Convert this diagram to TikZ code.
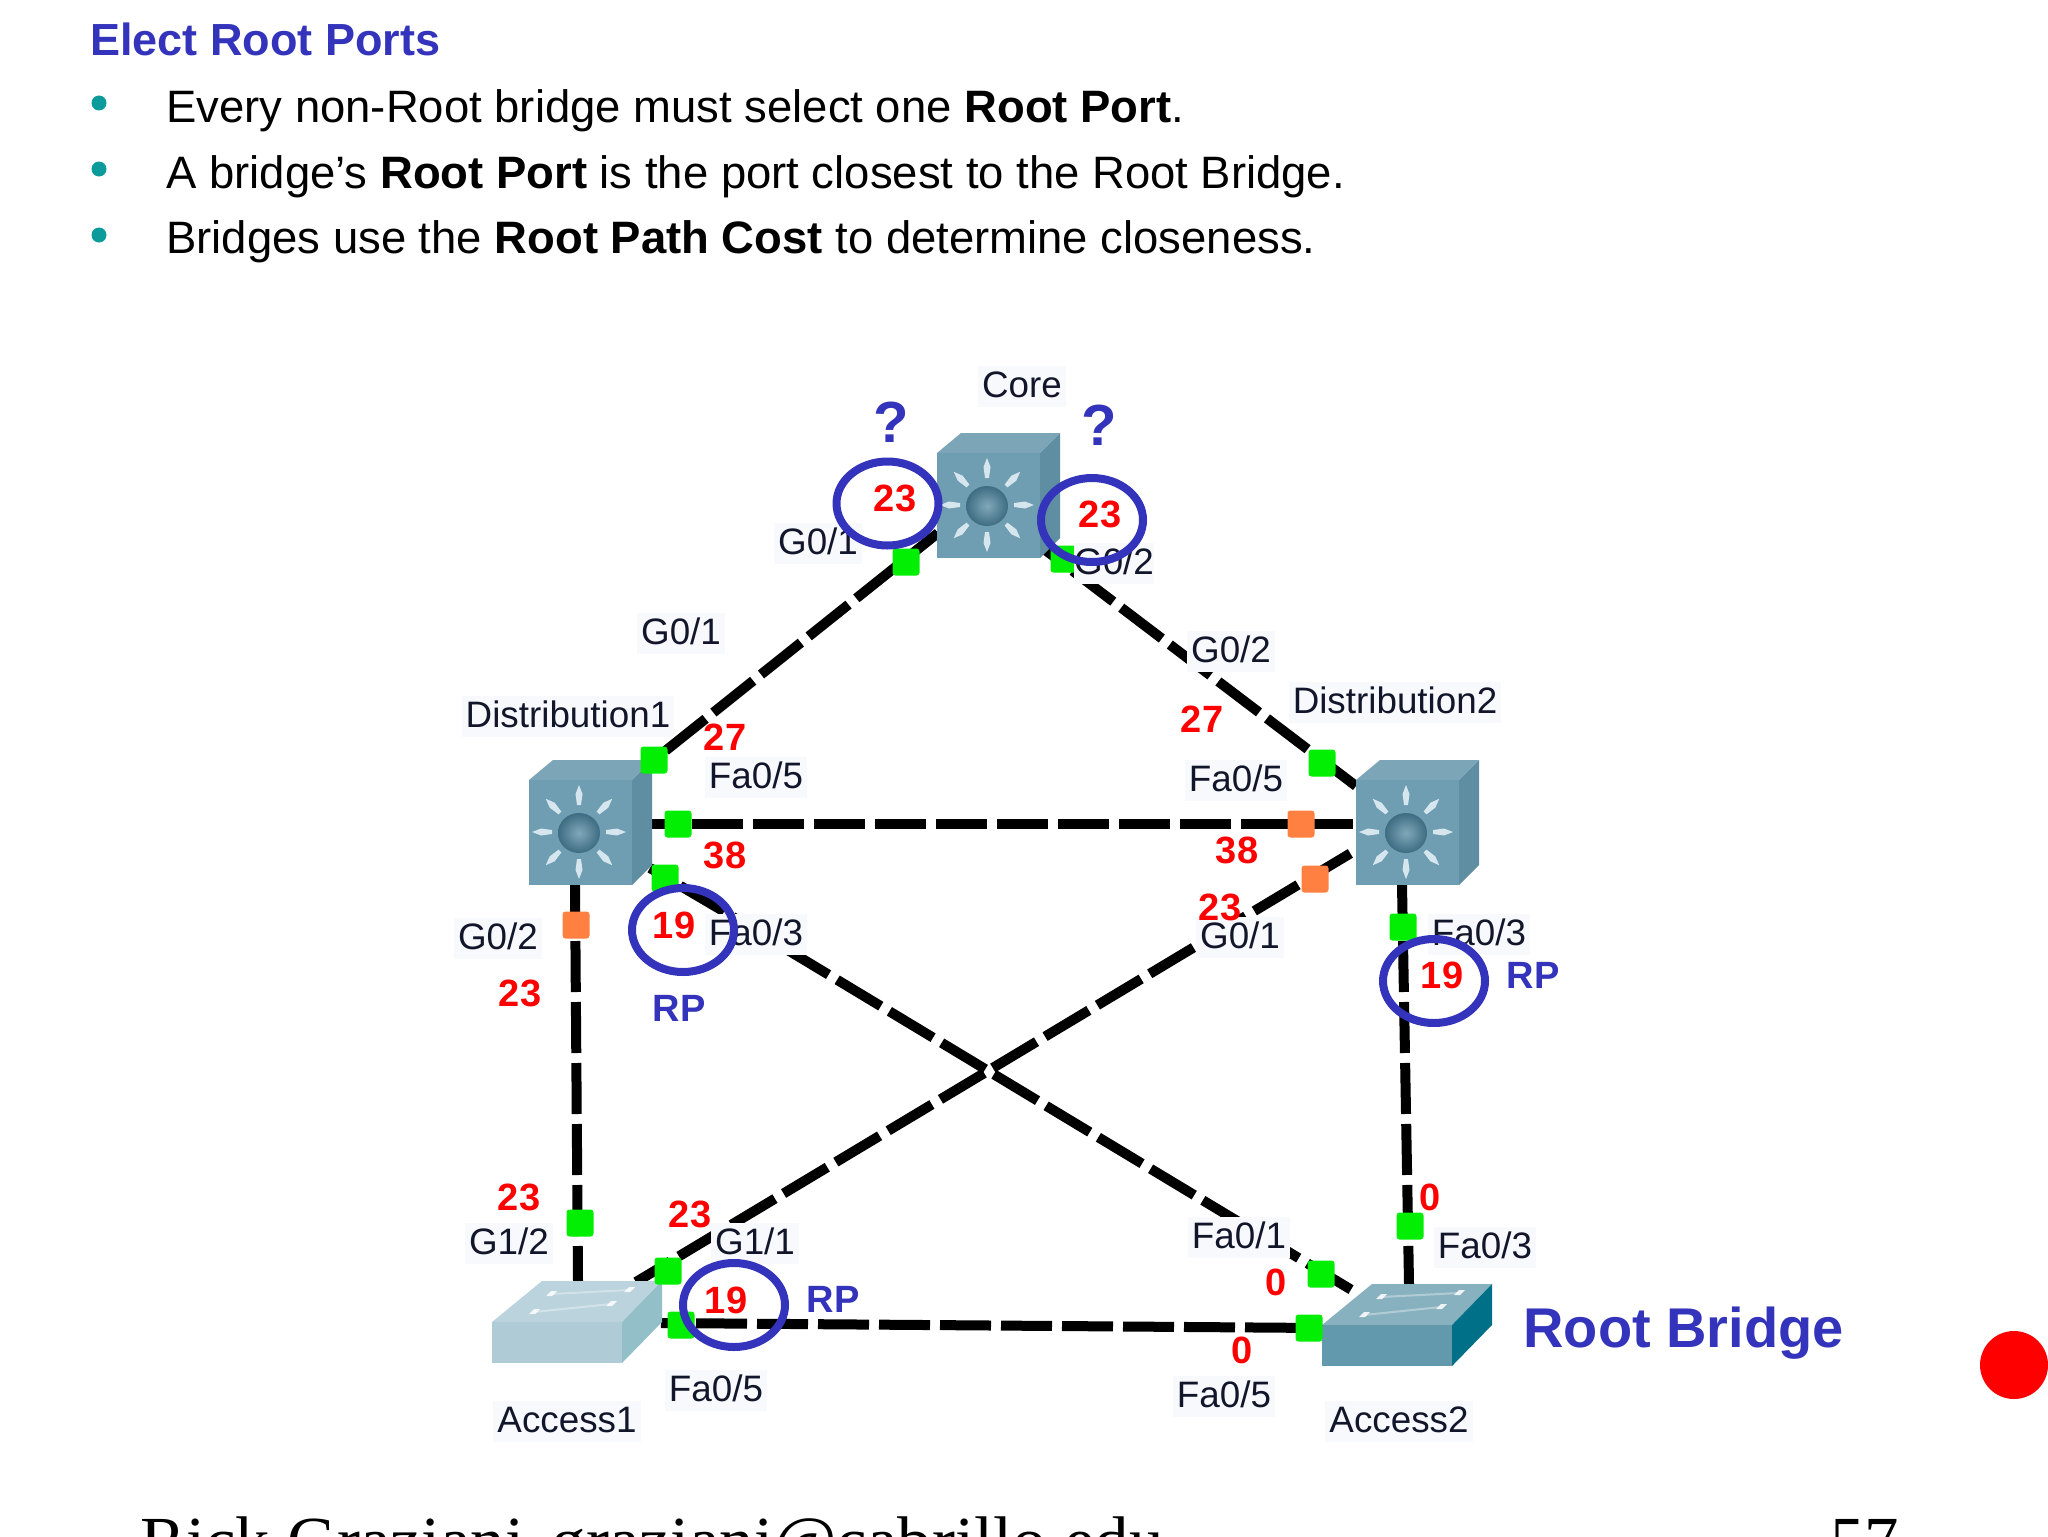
\documentclass[tikz,border=0pt]{standalone}
\usepackage{fontspec}
\setmainfont{Liberation Sans}
\newfontfamily\footfont{Liberation Serif}
\usetikzlibrary{shapes.geometric}

\definecolor{slideblue}{HTML}{3333BB}
\definecolor{bullet}{HTML}{0B9B9B}
\definecolor{portgreen}{HTML}{02EE02}
\definecolor{portorange}{HTML}{FF8040}
\definecolor{labelbg}{HTML}{F8F9FD}
\definecolor{labelink}{HTML}{12162A}

\tikzset{
  every node/.style={inner sep=0pt},
  heading/.style={anchor=base west, text=slideblue, font=\fontsize{22.5}{27}\selectfont\bfseries},
  body/.style={anchor=base west, font=\fontsize{22.72}{27}\selectfont},
  dot/.style={circle, fill=bullet, minimum size=7.5pt},
  foot/.style={anchor=base west, font=\footfont\fontsize{34.4}{42}\selectfont},
  link/.style={line width=5pt, black, dash pattern=on 25.5pt off 5pt},
  port/.style={rectangle, rounded corners=1.5pt, minimum size=13.5pt},
  up/.style={port, fill=portgreen},
  block/.style={port, fill=portorange},
  plabel/.style={fill=labelbg, text=labelink, inner xsep=2pt, inner ysep=2pt,
    text height=14pt, text depth=2.5pt, font=\fontsize{18.4}{22}\selectfont},
  dname/.style={plabel},
  cost/.style={text=red, font=\fontsize{19}{23}\selectfont\bfseries},
  rp/.style={text=slideblue, font=\fontsize{19}{23}\selectfont\bfseries},
  ask/.style={text=slideblue, font=\fontsize{29}{35}\selectfont\bfseries},
  ring/.style={ellipse, draw=slideblue, line width=4pt, minimum width=51pt, minimum height=42pt},
  mlsfront/.style={fill={rgb,255:red,111;green,157;blue,177}},
  mlstop/.style={fill={rgb,255:red,124;green,166;blue,184}},
  mlsside/.style={fill={rgb,255:red,95;green,141;blue,162}},
  spoke/.style={fill={rgb,255:red,214;green,230;blue,238}},
  pics/mls/.style={code={
    \fill[mlstop] (0,0) -- (24,-20) -- (123,-20) -- (103,0) -- cycle;
    \fill[mlsside] (103,0) -- (123,-20) -- (123,85) -- (103,105) -- cycle;
    \fill[mlsfront] (0,0) rectangle (103,105);
    \foreach \a in {0,45,...,315} {
      \begin{scope}[shift={(50,52)},rotate=\a]
        \fill[spoke] (27,-2) -- (38,-3.5) -- (47,0) -- (38,3.5) -- (27,2) -- cycle;
      \end{scope}
    }
    \shade[inner color={rgb,255:red,128;green,168;blue,186}, outer color={rgb,255:red,62;green,108;blue,130}]
      (50,53) ellipse (21 and 20);
  }},
  pics/acc/.style n args={3}{code={
    \fill[#2] (0,0) -- (50,-41) -- (170,-41) -- (130,0) -- cycle;
    \fill[#3] (130,0) -- (170,-41) -- (170,0) -- (130,41) -- cycle;
    \fill[#1] (0,0) rectangle (130,41);
    \draw[white, opacity=.35, line width=1pt] (59,-28) -- (137,-32) (42,-10) -- (119,-18);
    \foreach \p in {(59,-28),(137,-32),(42,-10),(119,-18)}
      \fill[white, opacity=.85, shift={\p}] (-5,2) -- (0,-3) -- (6,-3) -- (1,2) -- cycle;
  }}
}

\begin{document}
\begin{tikzpicture}[x=0.5pt,y=-0.5pt]
\useasboundingbox (0,0) rectangle (2048,1536);

% slide text
\node[heading] (title) at (90,56) {Elect Root Ports};
\node[dot] (b1) at (99,103) {};
\node[dot] (b2) at (99,169) {};
\node[dot] (b3) at (99,235) {};
\node[body] (t1) at (166,122) {Every non-Root bridge must select one \textbf{Root Port}.};
\node[body] (t2) at (166,188) {A bridge’s \textbf{Root Port} is the port closest to the Root Bridge.};
\node[body] (t3) at (166,253) {Bridges use the \textbf{Root Path Cost} to determine closeness.};

% ends of the links
\coordinate (coreL) at (938,533);
\coordinate (coreR) at (1040,546);
\coordinate (d1T) at (654,760);
\coordinate (d1R) at (651,824);
\coordinate (d1X) at (650,868);
\coordinate (d1K) at (718,908);
\coordinate (d1B) at (575,885);
\coordinate (d2T) at (1356,786);
\coordinate (d2L) at (1356,824);
\coordinate (d2X) at (1356,850);
\coordinate (d2B) at (1402,885);
\coordinate (a1T) at (578,1281);
\coordinate (a1X) at (636,1282);
\coordinate (a1R) at (661,1323);
\coordinate (a2L) at (1322,1328);
\coordinate (a2X) at (1355,1292);
\coordinate (a2T) at (1409,1284);

% links
\draw[link, dash phase=23pt] (d1T) -- (coreL);
\draw[link, dash phase=10pt] (coreR) -- (d2T);
\draw[link, dash phase=10pt] (d1R) -- (d2L);
\draw[link, dash phase=2.5pt] (d1B) -- (a1T);
\draw[link, dash phase=2.5pt] (d2B) -- (a2T);
\draw[link, dash phase=13pt] (a1R) -- (a2L);
\draw[link, dash phase=13pt] (d1X) -- (d1K) -- (a2X);
\draw[link, dash phase=27.2pt] (d2X) -- (a1X);

% devices
\pic at (937,453) {mls};
\pic at (529,780) {mls};
\pic at (1356,780) {mls};
\pic at (492,1322) {acc={fill={rgb,255:red,175;green,203;blue,213}}{fill={rgb,255:red,186;green,211;blue,220}}{fill={rgb,255:red,147;green,191;blue,201}}};
\pic at (1322,1325) {acc={fill={rgb,255:red,98;green,153;blue,173}}{fill={rgb,255:red,136;green,177;blue,192}}{fill={rgb,255:red,0;green,112;blue,136}}};

% ports
\node[up] (pCoreL) at (906,562) {};
\node[up] (pCoreR) at (1064,559) {};
\node[up] (pD1T) at (654,760) {};
\node[up] (pD1R) at (678,824) {};
\node[up] (pD1X) at (665,878) {};
\node[block] (pD1B) at (576,925) {};
\node[up] (pD2T) at (1322,763) {};
\node[block] (pD2L) at (1301,824) {};
\node[block] (pD2X) at (1315,879) {};
\node[up] (pD2B) at (1403,927) {};
\node[up] (pA1T) at (580,1223) {};
\node[up] (pA1X) at (668,1271) {};
\node[up] (pA1R) at (681,1325) {};
\node[up] (pA2L) at (1309,1328) {};
\node[up] (pA2X) at (1321,1274) {};
\node[up] (pA2T) at (1410,1226) {};

% device and port labels
\node[dname] (nCore) at (1022,386) {Core};
\node[dname] (nD1) at (568,716) {Distribution1};
\node[dname] (nD2) at (1395,702) {Distribution2};
\node[dname] (nA1) at (567,1421) {Access1};
\node[dname] (nA2) at (1399,1421) {Access2};
\node[plabel] (l1) at (818,543) {G0/1};
\node[plabel, inner xsep=0pt] (l2) at (1114,563) {G0/2};
\node[plabel] (l3) at (681,633) {G0/1};
\node[plabel] (l4) at (1231,651) {G0/2};
\node[plabel] (l5) at (756,777) {Fa0/5};
\node[plabel] (l6) at (1236,780) {Fa0/5};
\node[plabel] (l7) at (498,938) {G0/2};
\node[plabel] (l8) at (756,934) {Fa0/3};
\node[plabel] (l9) at (1240,937) {G0/1};
\node[plabel] (l10) at (1479,934) {Fa0/3};
\node[plabel] (l11) at (509,1243) {G1/2};
\node[plabel] (l12) at (755,1243) {G1/1};
\node[plabel] (l13) at (716,1390) {Fa0/5};
\node[plabel] (l14) at (1239,1237) {Fa0/1};
\node[plabel] (l15) at (1485,1247) {Fa0/3};
\node[plabel] (l16) at (1224,1396) {Fa0/5};

% path costs
\node[cost] (c1) at (895,498) {23};
\node[cost] (c2) at (1100,514) {23};
\node[cost] (c3) at (725,737) {27};
\node[cost] (c4) at (725,855) {38};
\node[cost] (c5) at (674,925) {19};
\node[cost] (c6) at (520,993) {23};
\node[cost] (c7) at (1202,719) {27};
\node[cost] (c8) at (1237,850) {38};
\node[cost] (c9) at (1220,907) {23};
\node[cost] (c10) at (1442,975) {19};
\node[cost] (c11) at (519,1197) {23};
\node[cost] (c12) at (690,1214) {23};
\node[cost] (c13) at (726,1300) {19};
\node[cost] (c14) at (1430,1197) {0};
\node[cost] (c15) at (1276,1282) {0};
\node[cost] (c16) at (1242,1350) {0};

% marks
\node[ring] (r1) at (887.5,503.5) {};
\node[ring] (r2) at (1092,520) {};
\node[ring] (r3) at (683,930) {};
\node[ring] (r4) at (1434,981) {};
\node[ring] (r5) at (734,1305) {};
\node[ask] (q1) at (891,422) {?};
\node[ask] (q2) at (1099,425) {?};
\node[rp] (rp1) at (679,1008) {RP};
\node[rp] (rp2) at (1533,975) {RP};
\node[rp] (rp3) at (833,1299) {RP};
\node[anchor=base west, text=slideblue, font=\fontsize{28}{34}\selectfont\bfseries] (root) at (1523,1347) {Root Bridge};

% pointer dot and slide footer
\node[circle, fill=red, minimum size=34pt] (pointer) at (2014,1365) {};
\node[foot] (f1) at (140,1564) {Rick Graziani\hspace{13.7pt}graziani@cabrillo.edu};
\node[foot] (f2) at (1830,1564) {57};
\end{tikzpicture}
\end{document}
